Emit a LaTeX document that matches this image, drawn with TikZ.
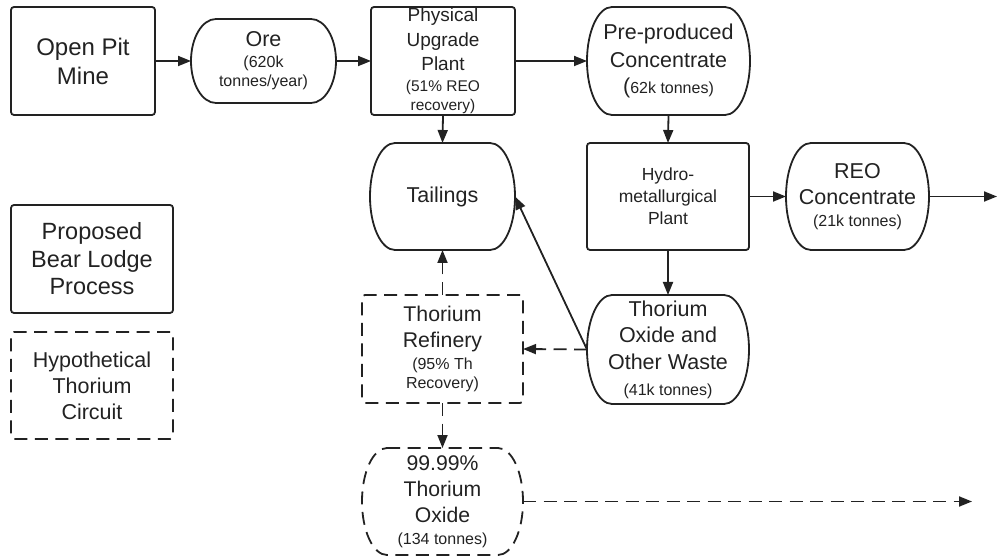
\documentclass[tikz,border=0pt]{standalone}
\usepackage{fontspec}
\setmainfont{Liberation Sans}
\usetikzlibrary{arrows.meta,calc}
\definecolor{ink}{HTML}{222222}
\newcommand\smA{\fontsize{16}{18}\selectfont}
\newcommand\smB{\fontsize{15.5}{18}\selectfont}
\newcommand\smC{\fontsize{16}{18}\selectfont}
\newcommand\stadshape[2][]{%
  \draw[shapeline,#1] let \p1=(#2.north west), \p2=(#2.south east), \n1={(\y1-\y2)/2} in
    (\x1+25pt,\y1) -- (\x2-25pt,\y1)
    arc[start angle=90,end angle=-90,x radius=25pt,y radius=\n1]
    -- (\x1+25pt,\y2)
    arc[start angle=270,end angle=90,x radius=25pt,y radius=\n1] -- cycle;}
\begin{document}
\begin{tikzpicture}[x=1pt,y=-1pt,
  shapeline/.style={draw=ink,line width=1.8pt},
  box/.style={draw=ink,line width=1.8pt,rounded corners=3pt,inner sep=0pt,outer sep=0pt,align=center,text=ink},
  stad/.style={inner sep=0pt,outer sep=0pt,align=center,text=ink},
  dsh/.style={dash pattern=on 13pt off 7.5pt},
  arr/.style={draw=ink,line width=1.8pt,-{Triangle[length=13pt,width=10pt]}},
]
\useasboundingbox (0,0) rectangle (997,556);

% process boxes
\node[box,minimum width=144pt,minimum height=108pt,font=\fontsize{24}{29}\selectfont] (mine) at (83,61) {Open Pit\\Mine};
\node[stad,minimum width=145pt,minimum height=84pt,font=\fontsize{21.5}{21}\selectfont] (ore) at (263.5,61) {Ore\\{\smA (620k}\\[-2pt]{\smA tonnes/year)}};
\node[box,minimum width=144pt,minimum height=108pt,font=\fontsize{19}{24.5}\selectfont] (phys) at (443,61) {Physical\\Upgrade\\Plant\\[-3.5pt]{\smB (51\% REO}\\[-5.5pt]{\smB recovery)}};
\node[stad,minimum width=163pt,minimum height=108pt,font=\fontsize{21.5}{27.5}\selectfont] (pre) at (668.5,61) {Pre-produced\\Concentrate\\[-1.5pt](\smC 62k tonnes)};
\node[stad,minimum width=145pt,minimum height=107pt,font=\fontsize{21.5}{27}\selectfont] (tail) at (442.5,196.5) {Tailings};
\node[box,minimum width=162pt,minimum height=107pt,font=\fontsize{17.5}{22}\selectfont] (hydro) at (668,196.5) {Hydro-\\metallurgical\\Plant};
\node[stad,minimum width=143pt,minimum height=107pt,font=\fontsize{21.5}{26}\selectfont] (reo) at (857.5,196.5) {REO\\Concentrate\\[-4pt]{\smC (21k tonnes)}};
\node[stad,minimum width=162pt,minimum height=109pt,font=\fontsize{21.5}{26.5}\selectfont] (waste) at (668,349.5) {Thorium\\Oxide and\\Other Waste\\[-0.5pt]{\smC (41k tonnes)}};
\node[box,dsh,minimum width=161pt,minimum height=108pt,font=\fontsize{21.3}{26}\selectfont] (ref) at (442.5,349) {Thorium\\Refinery\\[-4pt]{\smC (95\% Th}\\[-7.5pt]{\smC Recovery)}};
\node[stad,minimum width=161pt,minimum height=107pt,font=\fontsize{21.2}{26}\selectfont] (oxide) at (442.5,501.5) {99.99\%\\Thorium\\Oxide\\[-4pt]{\smC (134 tonnes)}};

% legend
\node[box,minimum width=162pt,minimum height=108pt,font=\fontsize{23.5}{27.5}\selectfont] (prop) at (92,259) {Proposed\\Bear Lodge\\Process};
\node[box,dsh,minimum width=162pt,minimum height=107pt,font=\fontsize{21.5}{26}\selectfont] (hyp) at (92,385.5) {Hypothetical\\Thorium\\Circuit};

% stadium outlines
\stadshape{ore}
\stadshape{pre}
\stadshape{tail}
\stadshape{reo}
\stadshape{waste}
\stadshape[dsh]{oxide}

% free ends
\coordinate (out1) at (997,196.5);
\coordinate (out2) at (972,501.5);

% connectors
\draw[arr] (mine.east) -- (ore.west);
\draw[arr] (ore.east) -- (phys.west);
\draw[arr] (phys.east) -- (pre.west);
\draw[arr] (phys.south) -- (tail.north);
\draw[arr] (pre.south) -- (hydro.north);
\draw[arr] (hydro.east) -- (reo.west);
\draw[arr] (reo.east) -- (out1);
\draw[arr] (hydro.south) -- (waste.north);
\draw[arr] (waste.west) -- (tail.east);
\draw[arr,dsh] (waste.west) -- (ref.east);
\draw[arr,dsh] (ref.north) -- (tail.south);
\draw[arr,dsh] (ref.south) -- (oxide.north);
\draw[arr,dsh] (oxide.east) -- (out2);
\end{tikzpicture}
\end{document}
